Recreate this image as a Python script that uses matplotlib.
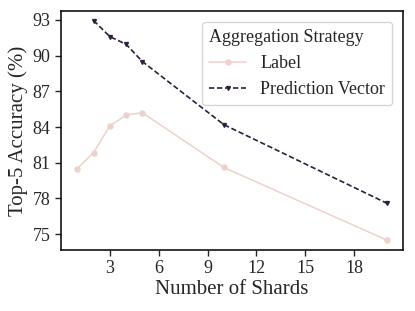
import matplotlib
matplotlib.use("Agg")
import matplotlib.pyplot as plt
import seaborn as sns

# data
shards_label = [1, 2, 3, 4, 5, 10, 20]
acc_label = [80.5, 81.85, 84.1, 85.0, 85.2, 80.6, 74.5]
shards_pred = [2, 3, 4, 5, 10, 20]
acc_pred = [92.95, 91.6, 90.95, 89.5, 84.2, 77.6]

sns.set_style("ticks")
plt.rcParams['font.family'] = ['Liberation Serif', 'DejaVu Serif']

pal = sns.cubehelix_palette(2)

fig, ax = plt.subplots(figsize=(4.15, 3.11), dpi=100)
fig.subplots_adjust(left=0.147, right=0.971, top=0.965, bottom=0.196)

ax.plot(shards_label, acc_label, color=pal[0], marker='o', markersize=3.6,
        linewidth=1.1, label="Label")
ax.plot(shards_pred, acc_pred, color=pal[1], marker='v', markersize=2.8,
        linewidth=1.2, linestyle=(0, (3.2, 1.6)), label="Prediction Vector")

ax.set_xlim(0, 21)
ax.set_ylim(73.66, 93.76)
ax.set_xticks([3, 6, 9, 12, 15, 18])
ax.set_yticks([75, 78, 81, 84, 87, 90, 93])
ax.tick_params(labelsize=13, length=4, width=1)
for s in ax.spines.values():
    s.set_linewidth(1.1)
    s.set_color('black')

ax.set_xlabel("Number of Shards", fontsize=15, labelpad=2)
ax.set_ylabel("Top-5 Accuracy (%)", fontsize=15, labelpad=3)

leg = ax.legend(title="Aggregation Strategy", fontsize=13, title_fontsize=13,
                loc='upper right', handlelength=2.0, borderaxespad=0.6,
                alignment='left')

fig.savefig("out.png", dpi=100)
